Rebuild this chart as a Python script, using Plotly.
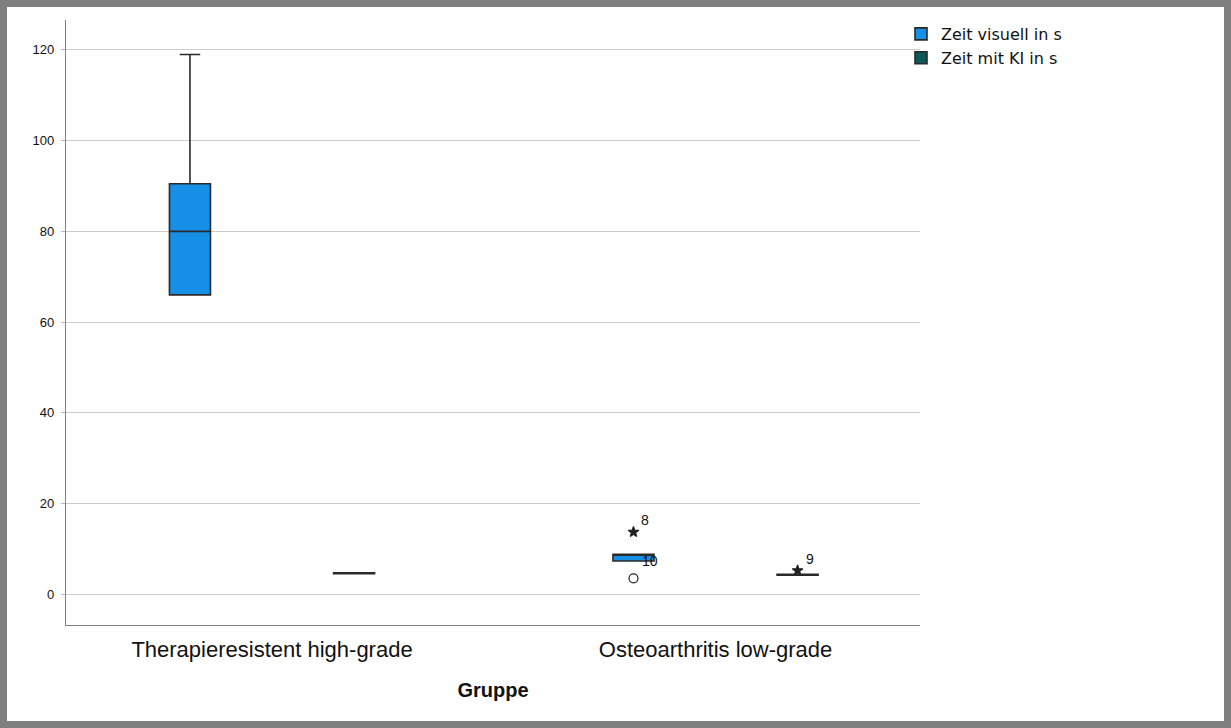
import plotly.graph_objects as go

# Groups on the x axis
categories = ["Therapieresistent high-grade", "Osteoarthritis low-grade"]

# Box statistics per group: lower whisker, Q1, median, Q3, upper whisker
visual_lower = [66.0, 7.3]
visual_q1 = [66.0, 7.3]
visual_median = [80.0, 8.7]
visual_q3 = [90.5, 8.8]
visual_upper = [119.0, 8.8]

ki_lower = [4.5, 4.2]
ki_q1 = [4.5, 4.2]
ki_median = [4.6, 4.3]
ki_q3 = [4.7, 4.4]
ki_upper = [4.7, 4.4]

# Outlying cases: group index, series, value, case number, kind
outlier_group = [1, 1, 1]
outlier_series = ["visual", "visual", "ki"]
outlier_value = [13.7, 3.5, 5.2]
outlier_case = ["8", "10", "9"]
outlier_kind = ["extreme", "mild", "extreme"]

y_ticks = [0, 20, 40, 60, 80, 100, 120]

BLUE = "#1690e6"
TEAL = "#0a5b58"
FONT = "Arial, Liberation Sans, sans-serif"
OFFSET = 0.185
BOX_W = 0.0925

W, H = 1231, 728
ML, MR, MT, MB = 66, 311, 20, 103
PW, PH = W - ML - MR, H - MT - MB

fig = go.Figure()

series = [
    ("Zeit visuell in s", BLUE, -OFFSET,
     visual_lower, visual_q1, visual_median, visual_q3, visual_upper),
    ("Zeit mit KI in s", TEAL, OFFSET,
     ki_lower, ki_q1, ki_median, ki_q3, ki_upper),
]
for name, color, off, lo, q1, med, q3, up in series:
    fig.add_trace(go.Box(
        name=name,
        x=[i + off for i in range(len(categories))],
        lowerfence=lo, q1=q1, median=med, q3=q3, upperfence=up,
        width=BOX_W,
        whiskerwidth=0.5,
        fillcolor=color,
        line=dict(color="#2a2a2a", width=1.6),
        boxpoints=False,
        hoverinfo="y",
    ))

symbols = {"extreme": "star", "mild": "circle-open"}
for g, s, v, c, k in zip(outlier_group, outlier_series, outlier_value,
                         outlier_case, outlier_kind):
    xpos = g + (-OFFSET if s == "visual" else OFFSET)
    fig.add_trace(go.Scatter(
        x=[xpos], y=[v], mode="markers", showlegend=False,
        marker=dict(symbol=symbols[k], size=9 if k == "mild" else 8,
                    color="#222222", line=dict(color="#222222", width=1.2)),
        hoverinfo="y",
    ))
    dy = 15 if k == "mild" else 10
    fig.add_annotation(x=xpos, y=v, text=c, showarrow=False,
                       xanchor="left", yanchor="bottom",
                       xshift=6 if k == "extreme" else 7, yshift=dy - 8,
                       font=dict(family=FONT, size=14, color="#111111"))

# Grey frame around the whole picture
B = 7
fig.add_shape(type="rect", xref="paper", yref="paper", layer="below",
              x0=(B - ML) / PW, x1=(W - B - ML) / PW,
              y0=(PH + MT - (H - B)) / PH, y1=(PH + MT - B) / PH,
              fillcolor="white", line=dict(width=0))

fig.update_layout(
    width=W, height=H,
    margin=dict(l=ML, r=MR, t=MT, b=MB),
    paper_bgcolor="#7f7f7f",
    plot_bgcolor="rgba(0,0,0,0)",
    font=dict(family=FONT, color="#111111"),
    legend=dict(x=1 - 19 / PW, y=1.0 + 3 / PH, xanchor="left", yanchor="top",
                bgcolor="rgba(0,0,0,0)",
                font=dict(size=16, family="DejaVu Sans, sans-serif"),
                tracegroupgap=0, itemwidth=30),
    showlegend=True,
)
fig.update_xaxes(
    range=[-0.4645, 1.461],
    tickvals=list(range(len(categories))), ticktext=categories,
    tickfont=dict(size=22, family=FONT, color="#111111"),
    ticklabelstandoff=4,
    showgrid=False, zeroline=False,
    showline=True, linecolor="#808080", linewidth=1.2,
    ticks="", title=dict(text="<b>Gruppe</b>", font=dict(size=20, family=FONT),
                         standoff=22),
)
fig.update_yaxes(
    range=[-6.8, 126.6],
    tickvals=y_ticks,
    tickfont=dict(size=13, family=FONT, color="#111111"),
    ticklabelstandoff=4,
    showgrid=True, gridcolor="#cccccc", gridwidth=1.2,
    zeroline=False,
    showline=True, linecolor="#808080", linewidth=1.2,
    ticks="outside", ticklen=4, tickcolor="#bbbbbb",
)

fig.write_html("out.html")
